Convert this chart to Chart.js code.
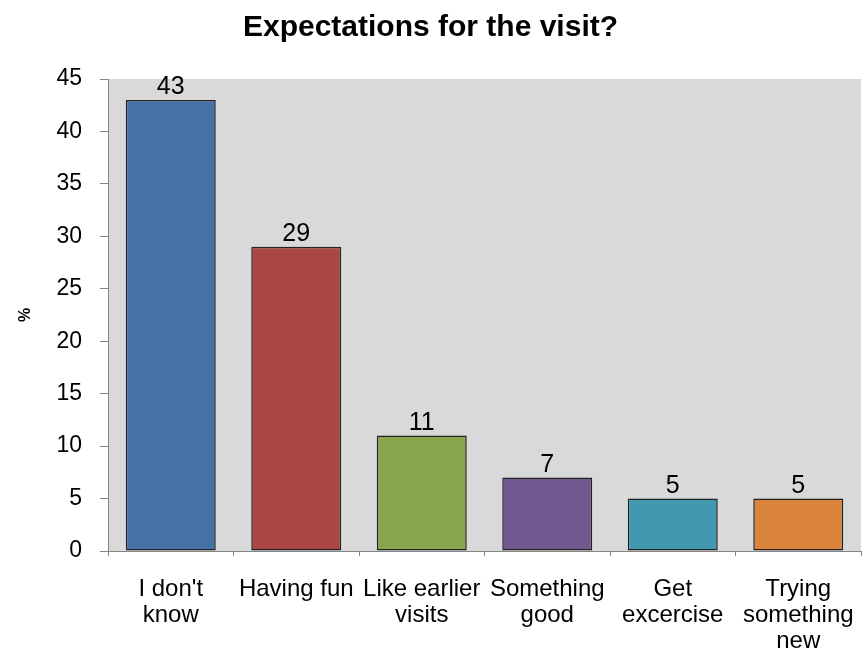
<!DOCTYPE html>
<html>
<head>
<meta charset="utf-8">
<script src="https://cdn.jsdelivr.net/npm/chart.js@4/dist/chart.umd.min.js"></script>
<style>
  html, body { margin: 0; padding: 0; background: #fff; }
  #graph { display: block; }
</style>
</head>
<body>
<canvas id="graph" width="862" height="652"></canvas>
<script>
// グラフのデータ
var labels = [["I don't", "know"], "Having fun", ["Like earlier", "visits"], ["Something", "good"], ["Get", "excercise"], ["Trying", "something", "new"]];
var values = [43, 29, 11, 7, 5, 5];
var colors = ['#4572A7', '#AA4643', '#89A54E', '#71588F', '#4198AF', '#DB843D'];
var yTicks = [0, 5, 10, 15, 20, 25, 30, 35, 40, 45];

var fontName = "'Liberation Sans', Arial, sans-serif";

// プロットエリアの背景
var plotBg = {
  id: 'plotBg',
  beforeDraw: function(chart) {
    var a = chart.chartArea;
    var ctx = chart.ctx;
    ctx.save();
    ctx.fillStyle = '#d9d9d9';
    ctx.fillRect(a.left, a.top, a.right - a.left, a.bottom - a.top);
    ctx.restore();
  }
};

// 棒の上の数値
var barValues = {
  id: 'barValues',
  afterDatasetsDraw: function(chart) {
    var ctx = chart.ctx;
    var meta = chart.getDatasetMeta(0);
    ctx.save();
    ctx.font = '25px ' + fontName;
    ctx.fillStyle = '#000';
    ctx.textAlign = 'center';
    ctx.textBaseline = 'alphabetic';
    meta.data.forEach(function(bar, i) {
      ctx.fillText(String(values[i]), bar.x, bar.y - 6);
    });
    ctx.restore();
  }
};

document.addEventListener('DOMContentLoaded', function() {
  var ctx = document.querySelector('#graph').getContext('2d');
  var chart = new Chart(ctx, {
    type: 'bar',
    data: {
      labels: labels,
      datasets: [{
        data: values,
        backgroundColor: colors,
        borderColor: '#222',
        borderWidth: 1.5,
        borderSkipped: false,
        barPercentage: 0.717,
        categoryPercentage: 1.0
      }]
    },
    options: {
      responsive: false,
      animation: false,
      layout: { padding: { left: 0, right: 1, top: 0, bottom: 0 } },
      plugins: {
        legend: { display: false },
        tooltip: { enabled: false },
        title: {
          display: true,
          text: 'Expectations for the visit?',
          color: '#000',
          font: { family: fontName, size: 30, weight: 'bold', lineHeight: 1.2 },
          padding: { top: 10, bottom: 33 }
        }
      },
      scales: {
        x: {
          offset: true,
          grid: {
            offset: true,
            drawOnChartArea: false,
            drawTicks: true,
            tickLength: 5,
            color: '#868686'
          },
          border: { color: '#868686', width: 1 },
          ticks: {
            color: '#000',
            padding: 20,
            maxRotation: 0,
            autoSkip: false,
            font: { family: fontName, size: 24, lineHeight: '26px' }
          },
          afterFit: function(scale) {
            scale.height = 101;
            scale.paddingLeft = 0;
            scale.paddingRight = 0;
          }
        },
        y: {
          min: 0,
          max: 45,
          afterBuildTicks: function(scale) {
            scale.ticks = yTicks.map(function(v) { return { value: v }; });
          },
          grid: {
            drawOnChartArea: false,
            drawTicks: true,
            tickLength: 8,
            color: '#868686'
          },
          border: { color: '#868686', width: 1 },
          ticks: {
            color: '#000',
            padding: 18,
            font: { family: fontName, size: 23 }
          },
          title: {
            display: true,
            text: '%',
            color: '#000',
            font: { family: fontName, size: 16, weight: 'bold' },
            padding: { top: 16, bottom: 0 }
          },
          afterFit: function(scale) {
            scale.width = 108;
            scale.paddingTop = 0;
            scale.paddingBottom = 0;
          }
        }
      }
    },
    plugins: [plotBg, barValues]
  });
});
</script>
</body>
</html>
